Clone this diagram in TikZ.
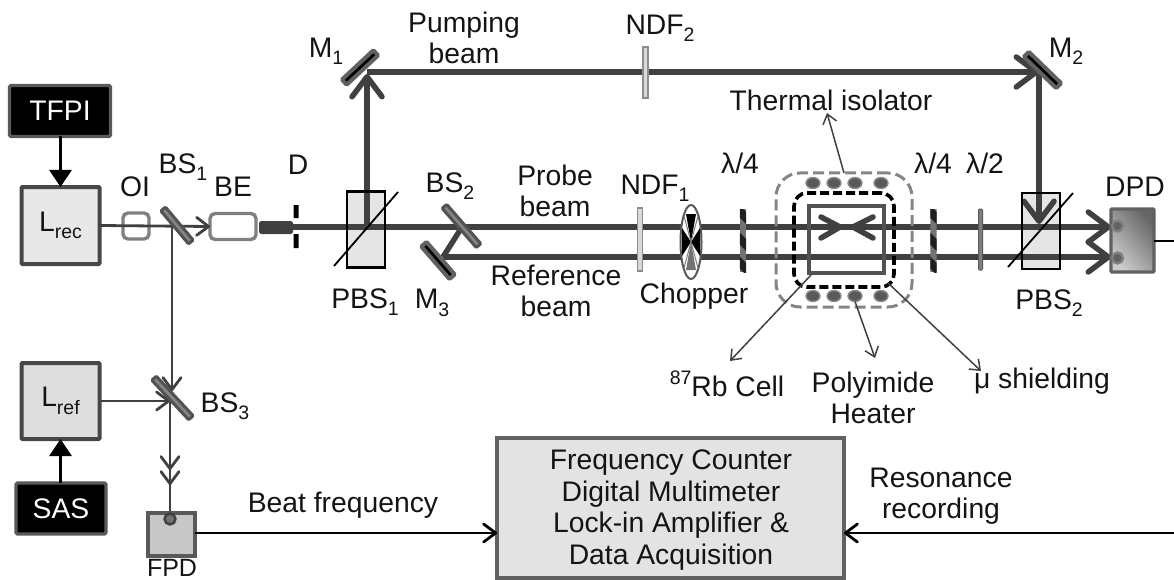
\documentclass[tikz,border=0pt]{standalone}
\usepackage{fontspec}
\setmainfont{Liberation Sans}
\usetikzlibrary{arrows.meta,shapes.geometric}
\newcommand\sbs[1]{\raisebox{-0.26em}{\fontsize{19.5}{19.5}\selectfont #1}}
\newcommand\sps[1]{\raisebox{0.42em}{\fontsize{19.5}{19.5}\selectfont #1}}
\definecolor{beamc}{HTML}{404040}
\tikzset{
 every node/.style={inner sep=0pt,outer sep=0pt,font=\fontsize{28.3}{31.5}\selectfont,text=black!92},
 lbl/.style={align=center},
 beam/.style={draw=beamc,line width=5.5pt},
 thin beam/.style={draw=beamc,line width=2.8pt},
 wire/.style={draw=black,line width=2.8pt},
 pointer/.style={draw=black!75,line width=1.5pt,-{Straight Barb[length=9pt,width=14pt,line width=1.5pt]}},
 barb/.style={-{Straight Barb[length=20pt,width=30pt,line width=5.5pt,round]}},
 thinbarb/.style={-{Straight Barb[length=12pt,width=18pt,line width=2.8pt,round]}},
 solidtip/.style={-{Triangle[length=17pt,width=22pt]}},
 blackbox/.style={draw=black!65,line width=3.4pt,fill=black,text=white,rounded corners=1.5pt},
 laser/.style={draw=black!72,line width=4pt,rounded corners=1pt},
 mirror/.style={draw=black!62,line width=4pt,fill=black,minimum height=7pt,rounded corners=1pt},
 splitter/.style={draw=black!68,line width=3pt,fill=black!48,minimum height=6pt,rounded corners=1pt},
 ringbox/.style={draw=black!50,line width=3.4pt,rounded corners=5pt,fill=none},
 cube/.style={fill=black!10,minimum width=38pt,minimum height=76pt},
 filter/.style={draw=black!45,line width=1.6pt,fill=black!15},
 heatdot/.style={ellipse,draw=black!45,line width=1.4pt,fill=black!65,minimum width=14pt,minimum height=11pt},
 pdpin/.style={circle,draw=black!50,line width=2.4pt,fill=black!62,minimum size=11pt},
}
\newcommand\waveplate[1]{%
 \begin{scope}
 \clip (#1-3.2,209) rectangle (#1+3.2,272);
 \fill[black!55] (#1-3.2,209) rectangle (#1+3.2,272);
 \foreach \yy in {205,232,256}{\fill[black!88] (#1-4,\yy) -- (#1+4,\yy+8) -- (#1+4,\yy+20) -- (#1-4,\yy+12) -- cycle;}
 \end{scope}}
\begin{document}
\begin{tikzpicture}[x=1pt,y=-1pt]
\useasboundingbox (0,0) rectangle (1174,580);
% cubes (fill only, under the beams)
\node[cube] (pbsa) at (366,229.5) {};
\node[cube] (pbsb) at (1041,231) {};
% anchors
\coordinate (bsaC) at (172,226);
\coordinate (bscIn) at (172,391);
\coordinate (start) at (293,227);
\coordinate (mA) at (367,74);
\coordinate (mB) at (1039,72);
\coordinate (splitA) at (367,227);
\coordinate (bsbC) at (462,227);
\coordinate (mcC) at (443,257);
\coordinate (dpdU) at (1111,227);
\coordinate (dpdL) at (1111,257);
\coordinate (pbsbIn) at (1039,224);
\coordinate (bscC) at (170,401);
\coordinate (rightU) at (1174,241);
\coordinate (rightL) at (1174,533);
% boxes
\node[blackbox,minimum width=101pt,minimum height=51pt] (tfpi) at (60,111) {TFPI};
\node[laser,fill=black!9,minimum width=78pt,minimum height=77pt] (lrec) at (60.5,225.5) {L\sbs{rec}};
\node[laser,fill=black!13,minimum width=78pt,minimum height=76pt] (lref) at (60.5,401) {L\sbs{ref}};
\node[blackbox,minimum width=90pt,minimum height=51pt] (sas) at (61,508.5) {SAS};
\node[ringbox,minimum width=26pt,minimum height=26pt] (oi) at (136,226) {};
\node[ringbox,fill=white,minimum width=46pt,minimum height=26pt] (be) at (233,226.5) {};
\node[draw=black!75,fill=black!75,line width=1pt,minimum width=33pt,minimum height=12pt,rounded corners=1.5pt] (exp) at (276,227.5) {};
% control lines
\draw[wire,solidtip] (tfpi.south -| lrec.north) -- (lrec.north);
\draw[wire,solidtip] (sas.north -| lref.south) -- (lref.south);
% thin beams
\draw[thin beam,thinbarb] (lrec.east) -- (be.west);
\draw[thin beam,thinbarb] (bsaC) -- (bscIn);
\draw[thin beam,thinbarb] (lref.east) -- (bscC);
\coordinate (fpdIn) at (170,513);
\draw[thin beam] (bscC) -- (fpdIn);
\draw[thin beam,thinbarb] (bscC) -- (170,470);
\draw[thin beam,thinbarb] (bscC) -- (170,485);
% main beams
\draw[beam] (start) -- (bsbC);
\draw[beam,barb] (bsbC) -- (dpdU);
\draw[beam] (bsbC) -- (mcC);
\draw[beam,barb] (mcC) -- (dpdL);
\draw[beam,barb] (splitA) -- (mA);
\draw[beam,barb] (mA |- mB) -- (mB);
\draw[beam,barb] (mB) -- (pbsbIn);
% aperture
\fill[black] (293.5,205) rectangle (298.5,218) (293.5,234) rectangle (298.5,248);
\node (d) at (296,226) {};
% cube outlines
\draw[black,line width=2.6pt] (pbsa.north west) rectangle (pbsa.south east);
\draw[black,line width=1.8pt] (334,266) -- (398,192);
\draw[black,line width=2.6pt] (pbsb.north west) rectangle (pbsb.south east);
\draw[black,line width=1.8pt] (1008,267) -- (1073,193);
% mirrors and splitters
\node[mirror,minimum width=43pt,rotate=43] (m1) at (360,67.5) {};
\node[mirror,minimum width=45pt,rotate=-44] (m2) at (1042.5,70) {};
\node[mirror,minimum width=43pt,rotate=-49] (m3) at (438,260.5) {};
\node[splitter,minimum width=43pt,rotate=-50] (bs1) at (177,225.5) {};
\node[splitter,minimum width=52pt,rotate=-49] (bs2) at (461.5,226) {};
\node[splitter,minimum width=54pt,rotate=-47] (bs3) at (172.5,398) {};
% filters
\node[filter,minimum width=5pt,minimum height=63pt] (ndfa) at (640,239.5) {};
\node[filter,minimum width=5pt,minimum height=51pt] (ndfb) at (645.5,72.5) {};
\node[draw=black!65,fill=black!50,line width=1pt,minimum width=4pt,minimum height=61pt,rounded corners=1pt] (half) at (980.5,239.5) {};
\waveplate{743}
\waveplate{933.5}
% chopper
\node[ellipse,draw=black!65,line width=2pt,fill=white,minimum width=21pt,minimum height=74pt] (chop) at (691,242) {};
\fill[black] (691,242) -- (686,214) -- (696,214) -- cycle;
\fill[black!55] (691,242) -- (686,270) -- (696,270) -- cycle;
\fill[black] (691,242) -- (682,228) -- (682,256) -- cycle;
\fill[black] (691,242) -- (700,228) -- (700,256) -- cycle;
\draw[black!50,line width=1pt] (684,216) -- (698,268) (698,216) -- (684,268);
% cell arrows
\draw[beamc,line width=5.5pt,line cap=round,line join=round] (821,217) -- (840,227) -- (821,238);
\draw[beamc,line width=5.5pt,line cap=round,line join=round] (873,217) -- (853,227) -- (873,238);
% cell and shields
\node[draw=black!68,line width=3.4pt,minimum width=75pt,minimum height=67pt] (cell) at (846.5,239.5) {};
\node[draw=black,line width=3.6pt,dash pattern=on 9pt off 4pt,rounded corners=13pt,minimum width=100pt,minimum height=94pt] (shield) at (844,240) {};
\node[draw=black!48,line width=3pt,dash pattern=on 11pt off 5pt,rounded corners=24pt,minimum width=136pt,minimum height=134pt] (iso) at (844,240) {};
\foreach \n/\xx in {a/813,b/834,c/855,d/881}{
 \node[heatdot] (top\n) at (\xx,183) {};
 \node[heatdot] (bot\n) at (\xx,296) {};
}
% detectors
\node[draw=black!62,line width=3.4pt,minimum width=43pt,minimum height=63pt,left color=black!20,right color=black!60,shading angle=130,rounded corners=1pt] (dpd) at (1132.5,240.5) {};
\node[pdpin] at (1117.5,226) {};
\node[pdpin] at (1117.5,258) {};
\node[draw=black!65,line width=3.4pt,fill=black!22,minimum width=47pt,minimum height=43pt] (fpd) at (171.5,534.5) {};
\node[circle,draw=beamc,line width=2.4pt,fill=black!55,minimum size=11pt] at (170,519) {};
\node[draw=black!62,line width=3.4pt,fill=black!11,minimum width=347pt,minimum height=140pt] (daq) at (670.5,508) {};
\node[lbl] (daqtext) at (671,510) {Frequency Counter\\Digital Multimeter\\Lock-in Amplifier \&\\Data Acquisition};
% signal wires
\draw[wire] (dpd.east |- rightU) -- (rightU);
\draw[wire,thinbarb] (fpd.east |- rightL) -- (daq.west |- rightL);
\draw[wire,thinbarb] (rightL) -- (daq.east |- rightL);
% pointers
\coordinate (pta) at (827,113);
\coordinate (ptb) at (730,361);
\coordinate (ptc) at (875,358);
\coordinate (ptd) at (981,371);
\draw[pointer] (844,173) -- (pta);
\draw[pointer] (811,275) -- (ptb);
\draw[pointer] (botc.south) -- (ptc);
\draw[pointer] (888,283) -- (ptd);
% labels
\node (tOI) at (135,187) {OI};
\node (tBSa) at (183,167) {BS\sbs{1}};
\node (tBE) at (233,187) {BE};
\node (tD) at (298,165) {D};
\node (tMa) at (326,51) {M\sbs{1}};
\node[lbl] (tPump) at (464,38) {Pumping\\beam};
\node (tNDFb) at (660,28) {NDF\sbs{2}};
\node (tTherm) at (831,100) {Thermal isolator};
\node (tMb) at (1066,51) {M\sbs{2}};
\node (tLa) at (740,163) {λ/4};
\node (tLb) at (933,163) {λ/4};
\node (tLc) at (985,163) {λ/2};
\node (tDPD) at (1135,187) {DPD};
\node[lbl] (tProbe) at (555,191) {Probe\\beam};
\node (tBSb) at (450,186) {BS\sbs{2}};
\node (tNDFa) at (655,188) {NDF\sbs{1}};
\node[lbl] (tRef) at (556,291) {Reference\\beam};
\node (tPBSa) at (365,302) {PBS\sbs{1}};
\node (tMc) at (432,303) {M\sbs{3}};
\node (tChop) at (694,296) {Chopper};
\node (tPBSb) at (1049,303) {PBS\sbs{2}};
\node (tRb) at (727,384) {\sps{87}Rb Cell};
\node[lbl] (tHeat) at (873,398) {Polyimide\\Heater};
\node (tMu) at (1042,381) {μ shielding};
\node (tBSc) at (225,406) {BS\sbs{3}};
\node[font=\fontsize{25}{28}\selectfont] (tFPD) at (172,568) {FPD};
\node (tBeat) at (343,505) {Beat frequency};
\node[lbl] (tRes) at (941,496) {Resonance\\recording};
\end{tikzpicture}
\end{document}
